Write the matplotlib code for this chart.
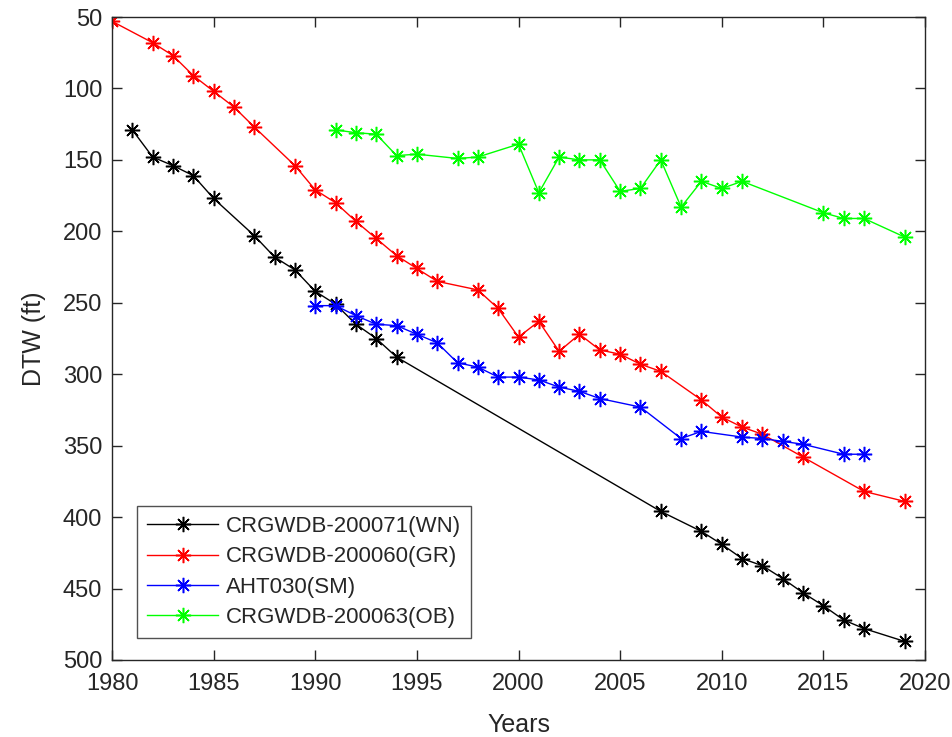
import matplotlib
matplotlib.use("Agg")
import matplotlib.pyplot as plt

plt.rcParams['font.family'] = ['Liberation Sans', 'DejaVu Sans']

wn_years = [1981, 1982, 1983, 1984, 1985, 1987, 1988, 1989, 1990, 1991, 1992, 1993, 1994,
            2007, 2009, 2010, 2011, 2012, 2013, 2014, 2015, 2016, 2017, 2019]
wn_dtw = [129, 148, 154, 161, 177, 203, 218, 227, 242, 251, 265, 275, 288,
          396, 410, 419, 429, 434, 443, 453, 462, 472, 478, 487]

gr_years = [1980, 1982, 1983, 1984, 1985, 1986, 1987, 1989, 1990, 1991, 1992, 1993, 1994,
            1995, 1996, 1998, 1999, 2000, 2001, 2002, 2003, 2004, 2005, 2006, 2007,
            2009, 2010, 2011, 2012, 2014, 2017, 2019]
gr_dtw = [53, 68, 77, 91, 102, 113, 127, 154, 171, 180, 193, 205, 217,
          226, 235, 241, 254, 274, 263, 284, 272, 283, 286, 293, 298,
          318, 330, 337, 342, 358, 382, 389]

sm_years = [1990, 1991, 1992, 1993, 1994, 1995, 1996, 1997, 1998, 1999, 2000, 2001, 2002,
            2003, 2004, 2006, 2008, 2009, 2011, 2012, 2013, 2014, 2016, 2017]
sm_dtw = [252, 252, 259, 265, 266, 272, 278, 292, 295, 302, 302, 304, 309,
          312, 317, 323, 345, 340, 344, 345, 347, 349, 356, 356]

ob_years = [1991, 1992, 1993, 1994, 1995, 1997, 1998, 2000, 2001, 2002, 2003, 2004, 2005,
            2006, 2007, 2008, 2009, 2010, 2011, 2015, 2016, 2017, 2019]
ob_dtw = [129, 131, 132, 147, 146, 149, 148, 139, 173, 148, 150, 150, 172,
          170, 150, 183, 165, 170, 165, 187, 191, 191, 204]

labels = ['CRGWDB-200071(WN)', 'CRGWDB-200060(GR)', 'AHT030(SM)', 'CRGWDB-200063(OB)']
colors = ['k', (1, 0, 0), (0, 0, 1), (0, 1, 0)]
x_ticks = list(range(1980, 2021, 5))
y_ticks = list(range(50, 501, 50))

fig = plt.figure(figsize=(9.53, 7.37), dpi=100)
ax = fig.add_axes([112/953, 1-660/737, 813/953, 643/737])

series = [(wn_years, wn_dtw), (gr_years, gr_dtw), (sm_years, sm_dtw), (ob_years, ob_dtw)]
for (xs, ys), lab, c in zip(series, labels, colors):
    ax.plot(xs, ys, color=c, lw=1.0, marker=(8, 2, 0), markersize=11,
            markeredgewidth=1.1, markeredgecolor=c, label=lab)

ax.set_xlim(1980, 2020)
ax.set_ylim(500, 50)
ax.set_xticks(x_ticks)
ax.set_yticks(y_ticks)
tc = (0.15, 0.15, 0.15)
ax.tick_params(direction='in', top=True, right=True, length=7, width=1.0,
               labelsize=17, colors=tc)
ax.tick_params(axis='x', pad=9)
ax.tick_params(axis='y', pad=7)
for s in ax.spines.values():
    s.set_color(tc)
    s.set_linewidth(1.0)
ax.set_xlabel('Years', fontsize=18, color=tc, labelpad=13)
ax.set_ylabel('DTW (ft)', fontsize=18, color=tc, labelpad=12)

leg = ax.legend(loc='lower left', bbox_to_anchor=(25/813, 22/643), fontsize=16,
                handlelength=3.2, frameon=True, fancybox=False, borderpad=0.45,
                labelspacing=0.42, handletextpad=0.35, borderaxespad=0)
leg.get_frame().set_edgecolor(tc)
leg.get_frame().set_linewidth(1.0)
for t in leg.get_texts():
    t.set_color(tc)

fig.savefig('out.png', dpi=100, facecolor='white')
